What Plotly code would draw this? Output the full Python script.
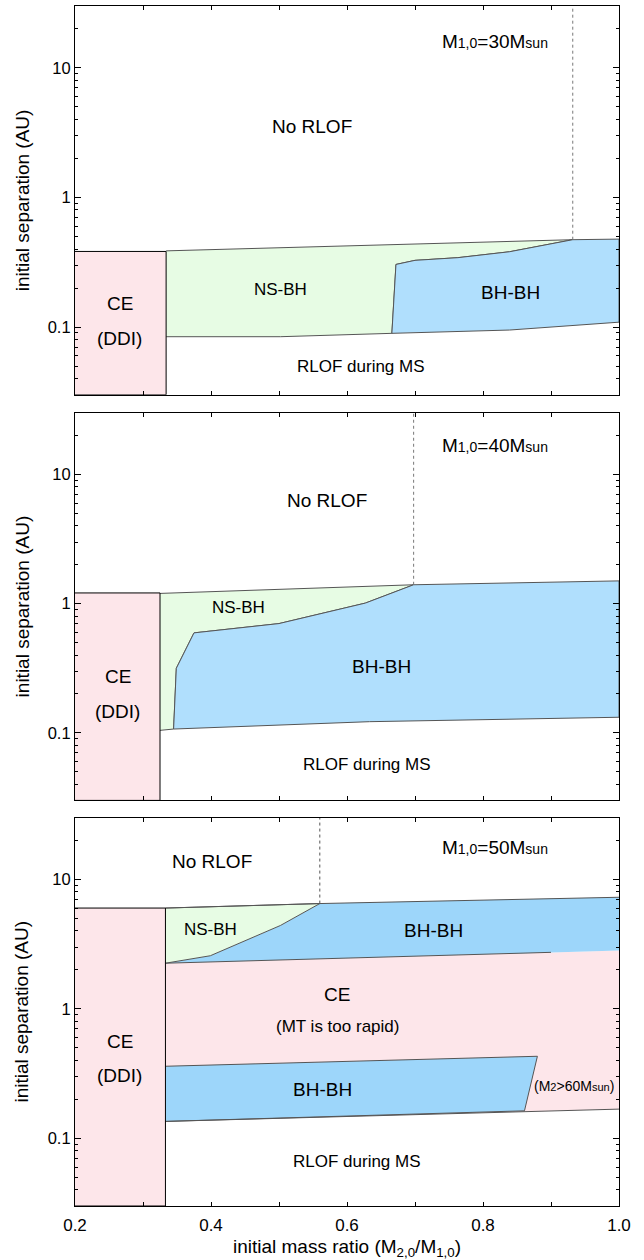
import math
import plotly.graph_objects as go
from plotly.subplots import make_subplots

# ---------------- data (q = M2,0/M1,0, a = initial separation in AU) -------------
# Panel 1 : M1,0 = 30 Msun
p1_ddi_q = [0.2, 0.334, 0.334, 0.2]
p1_ddi_a = [0.03, 0.03, 0.383, 0.383]
p1_nsbh_q = [0.334, 0.932, 0.839, 0.763, 0.700, 0.672, 0.666, 0.502, 0.334]
p1_nsbh_a = [0.387, 0.472, 0.381, 0.343, 0.327, 0.304, 0.0894, 0.0842, 0.0842]
p1_bhbh_q = [0.666, 0.672, 0.700, 0.763, 0.839, 0.932, 1.0, 1.0, 0.839, 0.666]
p1_bhbh_a = [0.0894, 0.304, 0.327, 0.343, 0.381, 0.472, 0.477, 0.109, 0.0948, 0.0894]
p1_dot_q = [0.932, 0.932]
p1_dot_a = [0.472, 30]

# Panel 2 : M1,0 = 40 Msun
p2_ddi_q = [0.2, 0.325, 0.325, 0.2]
p2_ddi_a = [0.03, 0.03, 1.21, 1.21]
p2_nsbh_q = [0.325, 0.698, 0.627, 0.500, 0.375, 0.349, 0.345, 0.325]
p2_nsbh_a = [1.20, 1.40, 1.01, 0.701, 0.594, 0.316, 0.107, 0.1045]
p2_bhbh_q = [0.345, 0.349, 0.375, 0.500, 0.627, 0.698, 1.0, 1.0, 0.633, 0.345]
p2_bhbh_a = [0.107, 0.316, 0.594, 0.701, 1.01, 1.40, 1.50, 0.132, 0.122, 0.107]
p2_dot_q = [0.698, 0.698]
p2_dot_a = [1.40, 30]

# Panel 3 : M1,0 = 50 Msun
p3_ddi_q = [0.2, 0.333, 0.333, 0.2]
p3_ddi_a = [0.03, 0.03, 6.0, 6.0]
p3_ce_q = [0.333, 1.0, 1.0, 0.333]
p3_ce_a = [2.25, 2.82, 0.168, 0.135]
p3_nsbh_q = [0.333, 0.560, 0.502, 0.399, 0.333]
p3_nsbh_a = [6.0, 6.5, 4.4, 2.57, 2.25]
p3_bhbh1_q = [0.333, 0.399, 0.502, 0.560, 1.0, 1.0, 0.333]
p3_bhbh1_a = [2.25, 2.57, 4.4, 6.5, 7.27, 2.82, 2.25]
p3_top_q = [0.333, 0.560, 1.0]
p3_top_a = [6.0, 6.5, 7.27]
p3_mid_q = [0.333, 0.90]
p3_mid_a = [2.25, 2.73]
p3_bhbh2_q = [0.333, 0.880, 0.861, 0.333]
p3_bhbh2_a = [0.360, 0.430, 0.163, 0.135]
p3_bot_q = [0.333, 0.861, 1.0]
p3_bot_a = [0.135, 0.162, 0.168]
p3_dot_q = [0.560, 0.560]
p3_dot_a = [6.5, 30]

# axes ticks
q_ticks = [0.2, 0.4, 0.6, 0.8, 1.0]
q_labels = ["0.2", "0.4", "0.6", "0.8", "1.0"]
q_minor = [0.3, 0.5, 0.7, 0.9]
a_ticks = [0.1, 1, 10]
a_labels = ["0.1", "1", "10"]
a_minor = [0.03, 0.04, 0.05, 0.06, 0.07, 0.08, 0.09,
           0.2, 0.3, 0.4, 0.5, 0.6, 0.7, 0.8, 0.9,
           2, 3, 4, 5, 6, 7, 8, 9, 20, 30]

PINK = "#fde6ea"
GREEN = "#e7fce4"
BLUE = "#b0dffd"
BLUE3 = "#9dd6fa"
EDGE = "#555555"
FONT = "Liberation Sans, Arial, Helvetica, sans-serif"

fig = make_subplots(rows=3, cols=1)


def poly(q, a, color, row, line=True, lc=EDGE):
    fig.add_trace(go.Scatter(
        x=q, y=a, mode="lines", fill="toself", fillcolor=color,
        line=dict(color=lc if line else "rgba(0,0,0,0)", width=1),
        hoverinfo="skip", showlegend=False), row=row, col=1)


def line(q, a, row, color=EDGE, dash="solid"):
    fig.add_trace(go.Scatter(
        x=q, y=a, mode="lines", line=dict(color=color, width=1, dash=dash),
        hoverinfo="skip", showlegend=False), row=row, col=1)


# panel 1
poly(p1_nsbh_q, p1_nsbh_a, GREEN, 1)
poly(p1_bhbh_q, p1_bhbh_a, BLUE, 1)
poly(p1_ddi_q, p1_ddi_a, PINK, 1, lc="black")
line(p1_dot_q, p1_dot_a, 1, color="#777777", dash="dot")

# panel 2
poly(p2_nsbh_q, p2_nsbh_a, GREEN, 2)
poly(p2_bhbh_q, p2_bhbh_a, BLUE, 2)
poly(p2_ddi_q, p2_ddi_a, PINK, 2, lc="black")
line(p2_dot_q, p2_dot_a, 2, color="#777777", dash="dot")

# panel 3
poly(p3_ce_q, p3_ce_a, PINK, 3, line=False)
poly(p3_bhbh1_q, p3_bhbh1_a, BLUE3, 3, line=False)
poly(p3_nsbh_q, p3_nsbh_a, GREEN, 3)
line(p3_top_q, p3_top_a, 3)
line(p3_mid_q, p3_mid_a, 3)
poly(p3_bhbh2_q, p3_bhbh2_a, BLUE3, 3)
line(p3_bot_q, p3_bot_a, 3)
poly(p3_ddi_q, p3_ddi_a, PINK, 3, lc="black")
line(p3_dot_q, p3_dot_a, 3, color="#555555", dash="dot")

domains = [[0.676, 1.0], [0.338, 0.661], [0.0, 0.3237]]
for i in range(3):
    r = i + 1
    fig.update_xaxes(range=[0.2, 1.0], tickmode="array", tickvals=q_ticks,
                     ticktext=q_labels, ticks="inside", ticklen=4,
                     tickcolor="black", mirror="allticks", showline=True,
                     linecolor="black", linewidth=1.2, showgrid=False,
                     zeroline=False, showticklabels=(r == 3),
                     minor=dict(tickmode="array", tickvals=q_minor,
                                ticks="inside", ticklen=4,
                                tickcolor="black", showgrid=False),
                     ticklabelstandoff=3,
                     tickfont=dict(size=17, color="black", family=FONT),
                     row=r, col=1)
    fig.update_yaxes(type="log", range=[-1.5229, 1.4771], tickmode="array",
                     tickvals=a_ticks, ticktext=a_labels, ticks="inside",
                     ticklen=6, tickcolor="black", mirror="allticks",
                     showline=True, linecolor="black", linewidth=1.2,
                     showgrid=False, zeroline=False,
                     minor=dict(tickmode="array", tickvals=a_minor,
                                ticks="inside", ticklen=3,
                                tickcolor="black", showgrid=False),
                     tickfont=dict(size=16.5, color="black", family=FONT),
                     title=dict(text="initial separation (AU)",
                                font=dict(size=19, color="black", family=FONT),
                                standoff=13),
                     domain=domains[i], row=r, col=1)

fig.update_xaxes(title=dict(
    text="initial mass ratio (M<sub>2,0</sub>/M<sub>1,0</sub>)",
    font=dict(size=19, color="black", family=FONT), standoff=7), row=3, col=1)


# annotations
def ann(row, q, a, text, size):
    xref = "x" if row == 1 else f"x{row}"
    yref = "y" if row == 1 else f"y{row}"
    fig.add_annotation(x=q, y=math.log10(a), xref=xref, yref=yref, text=text,
                       showarrow=False,
                       font=dict(size=size, color="black", family=FONT))


SUB = "<span style='font-size:14px'>"
ann(1, 0.818, 16.1, "M" + SUB + "1,0</span>=30M" + SUB + "sun</span>", 19)
ann(1, 0.549, 3.5, "No RLOF", 19)
ann(1, 0.502, 0.195, "NS-BH", 17)
ann(1, 0.840, 0.184, "BH-BH", 19)
ann(1, 0.266, 0.152, "CE", 19)
ann(1, 0.266, 0.0818, "(DDI)", 19)
ann(1, 0.621, 0.0494, "RLOF during MS", 17)

ann(2, 0.818, 16.6, "M" + SUB + "1,0</span>=40M" + SUB + "sun</span>", 19)
ann(2, 0.571, 6.3, "No RLOF", 19)
ann(2, 0.440, 0.926, "NS-BH", 17)
ann(2, 0.651, 0.325, "BH-BH", 19)
ann(2, 0.263, 0.272, "CE", 19)
ann(2, 0.263, 0.146, "(DDI)", 19)
ann(2, 0.629, 0.0569, "RLOF during MS", 17)

ann(3, 0.818, 17.5, "M" + SUB + "1,0</span>=50M" + SUB + "sun</span>", 19)
ann(3, 0.402, 13.7, "No RLOF", 19)
ann(3, 0.399, 4.12, "NS-BH", 17)
ann(3, 0.727, 4.0, "BH-BH", 19)
ann(3, 0.586, 1.30, "CE", 19)
ann(3, 0.586, 0.736, "(MT is too rapid)", 17)
ann(3, 0.266, 0.564, "CE", 19)
ann(3, 0.266, 0.307, "(DDI)", 19)
ann(3, 0.564, 0.239, "BH-BH", 19)
ann(3, 0.934, 0.254, "(M<span style='font-size:11px'>2</span>>60M<span style='font-size:11px'>sun</span>)", 14)
ann(3, 0.615, 0.066, "RLOF during MS", 17)

fig.update_layout(width=644, height=1260, plot_bgcolor="white",
                  paper_bgcolor="white",
                  margin=dict(l=75, r=25, t=5, b=51),
                  font=dict(family=FONT, color="black"))

fig.write_html("out.html")
